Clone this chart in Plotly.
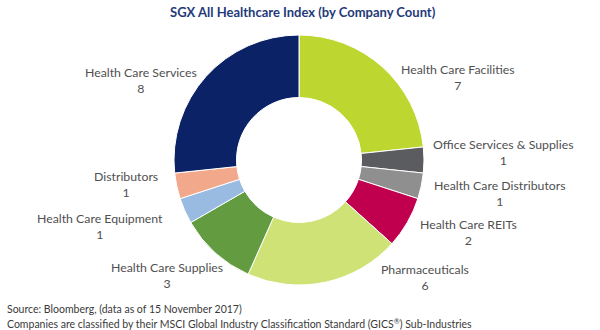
import plotly.graph_objects as go

categories = ["Health Care Facilities", "Office Services & Supplies", "Health Care Distributors",
              "Health Care REITs", "Pharmaceuticals", "Health Care Supplies",
              "Health Care Equipment", "Distributors", "Health Care Services"]
counts = [7, 1, 1, 2, 6, 3, 1, 1, 8]
colors = ["#BED730", "#5B5C5F", "#8F8F8F", "#C0004E", "#CEE275", "#629B40",
          "#9ABBE1", "#F2A98B", "#0B2267"]

# label anchor positions (pixels in 600x330 canvas)
label_pos = [(458, 78), (503, 152), (500, 193), (468, 232), (425, 277),
             (167, 275), (100, 226), (126, 184), (141, 80)]

W, H = 600, 330

fig = go.Figure(go.Pie(
    labels=categories, values=counts, hole=0.5, sort=False,
    direction="clockwise", rotation=0,
    marker=dict(colors=colors, line=dict(color="white", width=1)),
    textinfo="none", hoverinfo="label+value", showlegend=False,
    domain=dict(x=[174 / W, 424 / W], y=[1 - 285 / H, 1 - 35 / H]),
))

annotations = []
for cat, val, (px, py) in zip(categories, counts, label_pos):
    annotations.append(dict(
        x=px / W, y=1 - py / H, xref="paper", yref="paper",
        text=f"{cat}<br>{val}", showarrow=False, align="center",
        xanchor="center", yanchor="middle",
        font=dict(family="Lato", size=12.3, color="#505050"),
    ))

annotations.append(dict(
    x=303 / W, y=1 - 12 / H, xref="paper", yref="paper",
    text="<b>SGX All Healthcare Index (by Company Count)</b>", showarrow=False,
    xanchor="center", yanchor="middle",
    font=dict(family="Lato", size=13, color="#1F3A7A"),
))
annotations.append(dict(
    x=5 / W, y=1 - 309 / H, xref="paper", yref="paper",
    text="Source: Bloomberg, (data as of 15 November 2017)", showarrow=False,
    xanchor="left", yanchor="middle",
    font=dict(family="Lato", size=10.5, color="#3A3A3A"),
))
annotations.append(dict(
    x=5 / W, y=1 - 323 / H, xref="paper", yref="paper",
    text="Companies are classified by their MSCI Global Industry Classification Standard (GICS<sup>®</sup>) Sub-Industries",
    showarrow=False, xanchor="left", yanchor="middle",
    font=dict(family="Lato", size=10.5, color="#3A3A3A"),
))

fig.update_layout(
    width=W, height=H, margin=dict(l=0, r=0, t=0, b=0),
    paper_bgcolor="white", plot_bgcolor="white",
    annotations=annotations,
)

fig.write_html("out.html")
